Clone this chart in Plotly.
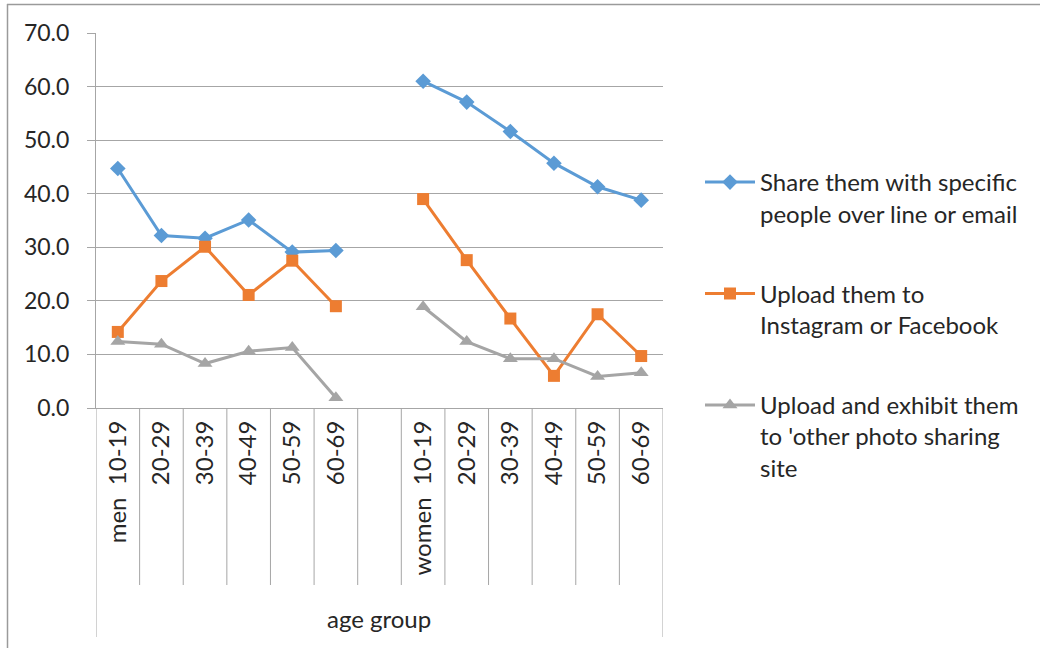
import plotly.graph_objects as go

# Category labels along the x axis (a blank slot separates men and women)
age_labels = ["men\u00a0\u00a010-19", "20-29", "30-39", "40-49", "50-59", "60-69", "",
              "women\u00a0\u00a010-19", "20-29", "30-39", "40-49", "50-59", "60-69"]
axis_group = "age group"

# Series values (percent)
share_specific = [44.7, 32.2, 31.7, 35.1, 29.1, 29.4, None, 61.0, 57.1, 51.6, 45.7, 41.3, 38.8]
upload_insta_fb = [14.2, 23.7, 30.1, 21.1, 27.5, 19.0, None, 39.0, 27.6, 16.7, 6.0, 17.5, 9.7]
upload_other_site = [12.4, 11.9, 8.3, 10.6, 11.3, 1.9, None, 18.9, 12.4, 9.2, 9.2, 5.9, 6.6]

series_names = [
    "Share them with specific<br>people over line or email",
    "Upload them to<br>Instagram or Facebook",
    "Upload and exhibit them<br>to 'other photo sharing<br>site",
]

y_ticks = [0, 10, 20, 30, 40, 50, 60, 70]

FONT = "Lato"
TEXT = "#262626"
GRID = "#a6a6a6"
FS = 24

# Layout geometry in pixels
W, H = 1040, 648
L, R, T, B = 96, 377, 33, 240
PW, PH = W - L - R, H - T - B

def px_x(px):
    return (px - L) / PW

def px_y(py):
    return (H - B - py) / PH

x_idx = list(range(len(age_labels)))

fig = go.Figure()
styles = [
    ("#5b9bd5", "diamond", 12),
    ("#ed7d31", "square", 12),
    ("#a5a5a5", "triangle-up", 13),
]
for i, (vals, name, (col, sym, ms)) in enumerate(
        zip([share_specific, upload_insta_fb, upload_other_site], series_names, styles)):
    fig.add_trace(go.Scatter(
        x=x_idx, y=vals, name=name, mode="lines+markers",
        line=dict(color=col, width=3),
        marker=dict(symbol=sym, size=ms, color=col),
        connectgaps=False, legendgroup=f"g{i}",
    ))

shapes = []
# Category dividers below the axis
n = len(age_labels)
for k in range(n + 1):
    edge = k - 0.5
    outer = k in (0, n)
    shapes.append(dict(
        type="line", xref="x", yref="paper", x0=edge, x1=edge,
        y0=0, y1=px_y(637 if outer else 585),
        line=dict(color=GRID, width=1),
    ))
# Chart frame (left and top edges)
shapes.append(dict(type="line", xref="paper", yref="paper",
                   x0=px_x(7), x1=px_x(1045), y0=px_y(4.5), y1=px_y(4.5),
                   line=dict(color="#9a9a9a", width=1.5)))
shapes.append(dict(type="line", xref="paper", yref="paper",
                   x0=px_x(7.5), x1=px_x(7.5), y0=px_y(4), y1=px_y(660),
                   line=dict(color="#9a9a9a", width=1.5)))

fig.update_layout(
    width=W, height=H,
    margin=dict(l=L, r=R, t=T, b=B, autoexpand=False),
    paper_bgcolor="white", plot_bgcolor="white",
    font=dict(family=FONT, size=FS, color=TEXT),
    showlegend=True,
    legend=dict(
        x=px_x(700), y=px_y(160), xanchor="left", yanchor="top",
        traceorder="grouped", tracegroupgap=46, valign="top",
        font=dict(family=FONT, size=FS, color=TEXT),
        itemwidth=50, bgcolor="rgba(0,0,0,0)",
    ),
    xaxis=dict(
        range=[-0.5, n - 0.5], tickmode="array", tickvals=x_idx, ticktext=age_labels,
        tickangle=-90, showgrid=False, zeroline=False,
        showline=True, linecolor=GRID, linewidth=1, ticks="",
        tickfont=dict(family=FONT, size=FS, color=TEXT),
        ticklabelstandoff=2,
        fixedrange=True,
    ),
    yaxis=dict(
        range=[0, 70], tickmode="array", tickvals=y_ticks,
        ticktext=[f"{v:.1f}" for v in y_ticks],
        showgrid=True, gridcolor=GRID, gridwidth=1,
        zeroline=False, showline=True, linecolor=GRID, linewidth=1,
        ticks="outside", ticklen=8, tickcolor=GRID,
        tickfont=dict(family=FONT, size=23, color=TEXT),
        ticklabelstandoff=13,
        fixedrange=True,
    ),
    shapes=shapes,
    annotations=[dict(
        text=axis_group, xref="paper", yref="paper",
        x=px_x(379), y=px_y(618), showarrow=False,
        xanchor="center", yanchor="middle",
        font=dict(family=FONT, size=FS, color=TEXT),
    )],
)

fig.write_html("out.html")
